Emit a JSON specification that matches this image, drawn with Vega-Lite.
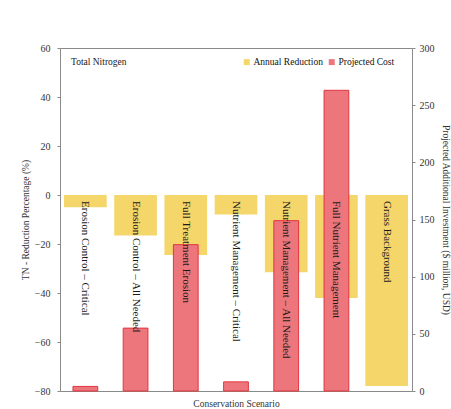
{
  "$schema": "https://vega.github.io/schema/vega-lite/v6.json",
  "width": 352,
  "height": 343,
  "autosize": {"type": "none"},
  "padding": {"left": 60, "top": 48, "right": 39, "bottom": 18},
  "background": "white",
  "title": {"text": "Total Nitrogen", "anchor": "start", "orient": "top", "frame": "group", "offset": -23, "dx": 11, "font": "Liberation Serif", "fontSize": 9.5, "fontWeight": "normal", "color": "#222"},
  "config": {
    "view": {"stroke": "#8a8a8a", "strokeWidth": 1},
    "font": "Liberation Serif",
    "axis": {"labelFont": "Liberation Serif", "titleFont": "Liberation Serif", "labelFontSize": 10, "titleFontSize": 9.5, "titleFontWeight": "normal", "labelColor": "#333", "titleColor": "#333", "grid": false, "domainColor": "#8a8a8a", "tickColor": "#8a8a8a", "tickSize": 3},
    "legend": {"labelFont": "Liberation Serif", "labelFontSize": 9.5, "labelColor": "#111"}
  },
  "data": {"values": [
    {"scenario": "Erosion Control – Critical", "reduction": -5, "cost": 4},
    {"scenario": "Erosion Control – All Needed", "reduction": -16.5, "cost": 55},
    {"scenario": "Full Treatment Erosion", "reduction": -24.5, "cost": 128},
    {"scenario": "Nutrient Management – Critical", "reduction": -8, "cost": 8},
    {"scenario": "Nutrient Management – All Needed", "reduction": -31.5, "cost": 149},
    {"scenario": "Full Nutrient Management", "reduction": -42, "cost": 263},
    {"scenario": "Grass Background", "reduction": -78, "cost": null}
  ]},
  "encoding": {
    "x": {"field": "scenario", "type": "nominal", "sort": null,
      "scale": {"paddingInner": 0.15, "paddingOuter": 0.08},
      "axis": {"labels": false, "ticks": false, "domain": false, "title": "Conservation Scenario", "titlePadding": 7}}
  },
  "layer": [
    {
      "mark": {"type": "bar", "opacity": 1},
      "encoding": {
        "y": {"field": "reduction", "type": "quantitative",
          "scale": {"domain": [-80, 60], "nice": false},
          "axis": {"title": "TN - Reduction Percentage (%)", "orient": "left", "values": [-80, -60, -40, -20, 0, 20, 40, 60], "domain": false, "labelPadding": 7, "titlePadding": 4}},
        "color": {"datum": "Annual Reduction", "type": "nominal",
          "scale": {"domain": ["Annual Reduction", "Projected Cost"], "range": ["#F5D66A", "#EC767C"]},
          "legend": {"title": null, "orient": "none", "legendX": 182, "legendY": 9, "direction": "horizontal", "symbolType": "square", "symbolSize": 36, "labelOffset": 2, "columnPadding": 4, "symbolStrokeWidth": 0}}
      }
    },
    {
      "mark": {"type": "rule", "color": "#8a8a8a", "strokeWidth": 1},
      "encoding": {
        "y": {"datum": 0, "type": "quantitative", "scale": {"domain": [-80, 60], "nice": false}, "axis": null}
      }
    },
    {
      "mark": {"type": "bar", "width": {"band": 0.58}, "stroke": "#E2363F", "strokeWidth": 1, "opacity": 1},
      "encoding": {
        "y": {"field": "cost", "type": "quantitative",
          "scale": {"domain": [0, 300], "nice": false},
          "axis": {"title": "Projected Additional Investment ($ million, USD)", "orient": "right", "values": [0, 50, 100, 150, 200, 250, 300], "domain": false, "labelPadding": 4, "titlePadding": 6, "titleAngle": 90}},
        "color": {"datum": "Projected Cost", "type": "nominal"}
      }
    },
    {
      "mark": {"type": "text", "angle": 90, "align": "left", "baseline": "middle", "dx": 6, "font": "Liberation Serif", "fontSize": 11, "color": "#1a1a1a"},
      "encoding": {
        "y": {"datum": 0, "type": "quantitative", "scale": {"domain": [-80, 60], "nice": false}, "axis": null},
        "text": {"field": "scenario", "type": "nominal"}
      }
    }
  ],
  "resolve": {"scale": {"y": "independent"}}
}
